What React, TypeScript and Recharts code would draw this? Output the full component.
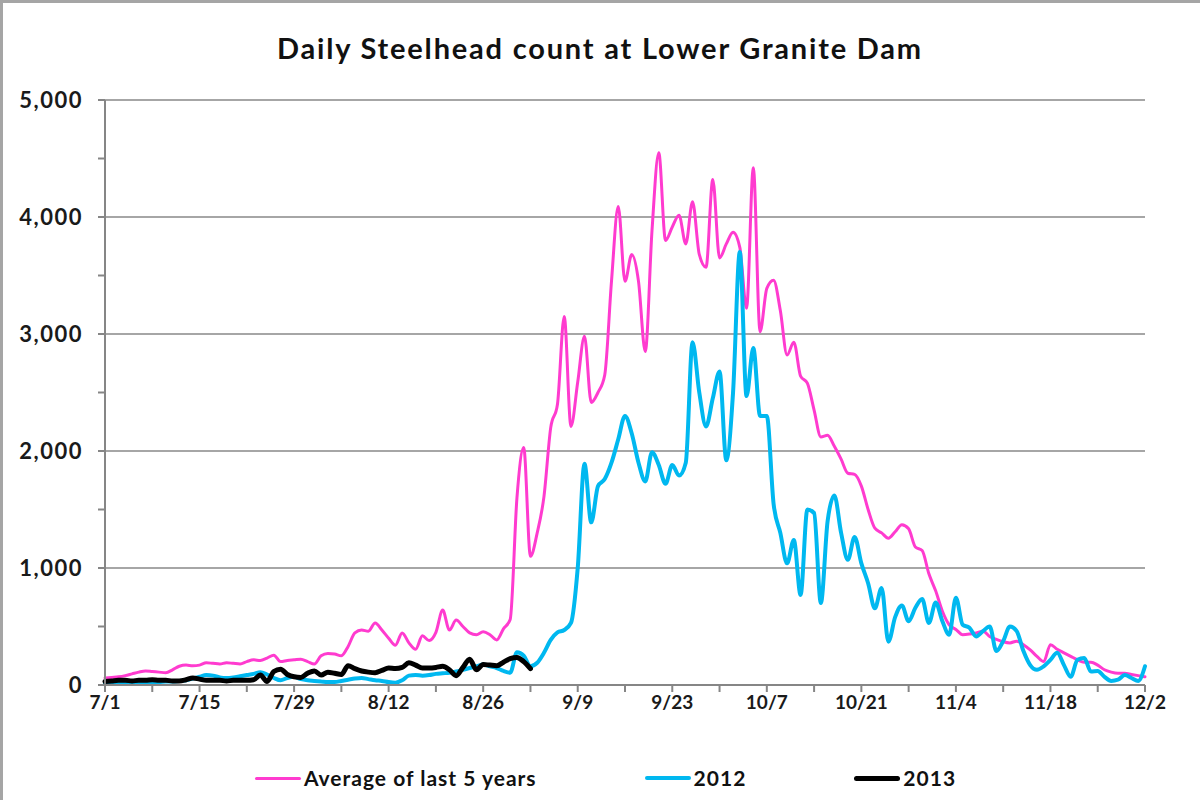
// Daily Steelhead count at Lower Granite Dam — avg of last 5 years vs 2012 vs 2013.
// One point per day, day 0 = 7/1, day 154 = 12/2.
import { LineChart, Line, XAxis, YAxis, CartesianGrid } from 'recharts'

const xTickLabels = ['7/1', '7/15', '7/29', '8/12', '8/26', '9/9', '9/23', '10/7', '10/21', '11/4', '11/18', '12/2']
const yTickLabels = ['0', '1,000', '2,000', '3,000', '4,000', '5,000']

// Average of last 5 years (7/1 .. 12/2)
const avgLast5 = [
  60, 65, 70, 80, 95, 110, 120, 115, 110, 105,
  130, 160, 170, 165, 170, 190, 185, 180, 190, 185,
  180, 200, 215, 210, 230, 255, 200, 210, 215, 220,
  200, 180, 250, 270, 265, 250, 330, 445, 470, 460,
  530, 470, 400, 340, 445, 360, 305, 420, 380, 450,
  640, 470, 555, 500, 445, 430, 455, 430, 385, 480,
  560, 1600, 2030, 1100, 1300, 1610, 2200, 2400, 3150, 2210,
  2590, 2980, 2415, 2500, 2650, 3450, 4090, 3450, 3680, 3450,
  2850, 3885, 4550, 3800, 3915, 4015, 3770, 4130, 3680, 3570,
  4320, 3650, 3770, 3870, 3740, 3220, 4420, 3020, 3390, 3460,
  3200, 2820, 2930, 2640, 2580, 2350, 2120, 2135, 2040, 1930,
  1810, 1800, 1700, 1500, 1340, 1300, 1255, 1310, 1370, 1335,
  1180, 1150, 950, 805, 630, 515, 475, 430, 435, 445,
  460, 415, 390, 370, 360, 375, 345, 300, 245, 200,
  345, 305, 275, 245, 215, 195, 195, 170, 130, 110,
  100, 100, 90, 80, 70,
]

const y2012 = [
  10, 10, 15, 15, 20, 20, 20, 25, 25, 30,
  30, 35, 40, 55, 70, 85, 80, 65, 60, 65,
  75, 85, 95, 110, 90, 60, 40, 60, 70, 50,
  40, 35, 30, 25, 25, 35, 45, 55, 60, 50,
  40, 35, 25, 20, 40, 80, 85, 80, 85, 95,
  100, 105, 115, 130, 145, 160, 175, 160, 145, 120,
  105, 280, 250, 160, 190, 275, 385, 450, 470, 530,
  1000, 1890, 1390, 1700, 1760, 1900, 2100, 2300, 2150, 1900,
  1740, 1990, 1880, 1720, 1880, 1790, 1900, 2930, 2500, 2210,
  2450, 2680, 1920, 2500, 3700, 2470, 2880, 2300, 2300, 1550,
  1300, 1040, 1240, 770, 1500, 1470, 700, 1400, 1620, 1300,
  1070, 1265, 1040, 870, 655, 830, 370, 580, 680, 545,
  660, 735, 530, 705, 545, 430, 745, 515, 490, 415,
  460, 500, 290, 375, 500, 460, 290, 170, 130, 160,
  215, 275, 170, 70, 215, 230, 115, 120, 70, 35,
  45, 85, 60, 35, 160,
]

// 2013 only runs to early September
const y2013 = [
  30, 35, 40, 40, 35, 40, 40, 45, 40, 40,
  35, 35, 45, 60, 50, 40, 40, 40, 35, 40,
  40, 40, 45, 85, 30, 115, 135, 90, 70, 65,
  100, 120, 85, 110, 100, 90, 165, 140, 120, 110,
  105, 125, 145, 140, 150, 190, 170, 145, 145, 150,
  160, 130, 80, 150, 220, 130, 175, 170, 165, 195,
  225, 235, 200, 140,
]

const Y_MAX = 5000
const DAY_MAX = 154
const FONT = 'Lato, "Open Sans", sans-serif'
const AXIS_COLOR = '#868686'
const GRID_COLOR = '#a6a6a6'

const SERIES = [
  { key: 'avg', name: 'Average of last 5 years', color: '#ff3bcf', width: 3 },
  { key: 'y2012', name: '2012', color: '#00b8f0', width: 4 },
  { key: 'y2013', name: '2013', color: '#000000', width: 5 },
]

const data = avgLast5.map((v, d) => ({ d, avg: v, y2012: y2012[d], y2013: y2013[d] }))

const xTicks = Array.from({ length: DAY_MAX / 7 + 1 }, (_, i) => i * 7)
const yTicks = Array.from({ length: 11 }, (_, i) => i * 500)
const gridValues = [1000, 2000, 3000, 4000, 5000]

function XTick({ x, y, payload }: any) {
  const d = payload.value
  if (d % 14 !== 0) return <g />
  return (
    <text x={x} y={y} dy="0.75em" textAnchor="middle" fontFamily={FONT} fontWeight={700} fontSize={19} fill="#1a1a1a">
      {xTickLabels[d / 14]}
    </text>
  )
}

function YTick({ x, y, payload }: any) {
  const v = payload.value
  if (v % 1000 !== 0) return <g />
  return (
    <text x={x} y={y} dy="0.36em" textAnchor="end" fontFamily={FONT} fontWeight={700} fontSize={22} letterSpacing={1.5} fill="#1a1a1a">
      {yTickLabels[v / 1000]}
    </text>
  )
}

function gridLines({ yAxis, offset }: any) {
  const s = yAxis?.scale
  return gridValues.map((v) => {
    if (typeof s === 'function') return s(v)
    if (s && typeof s.map === 'function') return s.map(v)
    return offset.top + offset.height * (1 - v / Y_MAX)
  })
}

export default function App() {
  return (
    <div style={{ position: 'absolute', left: 0, top: 0, width: 1200, height: 800, background: '#fff', fontFamily: FONT }}>
      <div
        style={{
          position: 'absolute', top: 33, left: 0, width: 1200, textAlign: 'center',
          fontSize: 29, fontWeight: 700, color: '#111', lineHeight: 1, letterSpacing: 1.8,
        }}
      >
        Daily Steelhead count at Lower Granite Dam
      </div>

      <LineChart width={1200} height={800} data={data} margin={{ top: 100, right: 55, bottom: 85, left: 0 }}>
        <CartesianGrid vertical={false} stroke={GRID_COLOR} strokeWidth={2} horizontalCoordinatesGenerator={gridLines} />
        <XAxis
          type="number"
          dataKey="d"
          domain={[0, DAY_MAX]}
          ticks={xTicks}
          interval={0}
          height={30}
          tickSize={7}
          tickMargin={3}
          tick={<XTick />}
          axisLine={{ stroke: AXIS_COLOR, strokeWidth: 2 }}
          tickLine={{ stroke: AXIS_COLOR, strokeWidth: 2 }}
        />
        <YAxis
          type="number"
          domain={[0, Y_MAX]}
          ticks={yTicks}
          interval={0}
          width={105}
          tickSize={7}
          tickMargin={15}
          tick={<YTick />}
          axisLine={{ stroke: AXIS_COLOR, strokeWidth: 2 }}
          tickLine={{ stroke: AXIS_COLOR, strokeWidth: 2 }}
        />
        {SERIES.map((s) => (
          <Line
            key={s.key}
            type="monotone"
            dataKey={s.key}
            name={s.name}
            stroke={s.color}
            strokeWidth={s.width}
            strokeLinejoin="round"
            strokeLinecap="round"
            dot={false}
            activeDot={false}
            isAnimationActive={false}
          />
        ))}
      </LineChart>

      {/* legend row under the plot */}
      <div
        style={{
          position: 'absolute', top: 766, left: 0, width: 1211, display: 'flex',
          justifyContent: 'center', gap: 108, fontSize: 21, fontWeight: 700, color: '#111',
          lineHeight: '24px', letterSpacing: 1,
        }}
      >
        {SERIES.map((s) => (
          <div key={s.key} style={{ display: 'flex', alignItems: 'center' }}>
            <span style={{ display: 'inline-block', width: 46, height: s.width, background: s.color, borderRadius: 3, marginRight: 3 }} />
            <span>{s.name}</span>
          </div>
        ))}
      </div>

      <div
        style={{
          position: 'absolute', left: 0, top: 0, width: 1200, height: 800, boxSizing: 'border-box',
          borderTop: '3px solid #a5a5a5', borderLeft: '3px solid #a5a5a5', pointerEvents: 'none',
        }}
      />
    </div>
  )
}
